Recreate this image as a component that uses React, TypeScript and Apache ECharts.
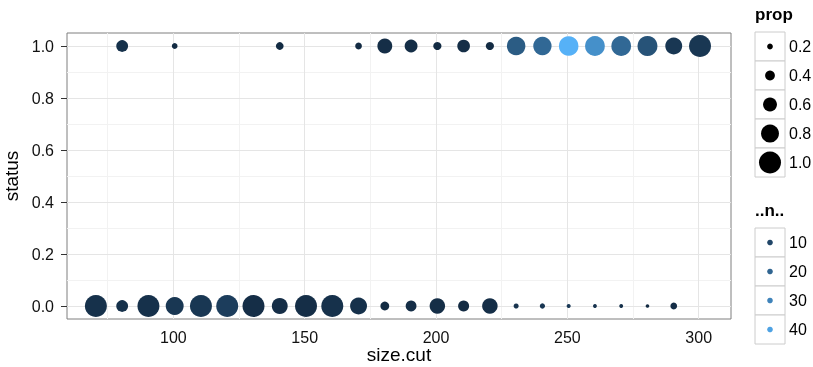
import React, { useEffect, useRef } from "react";
import * as echarts from "echarts";

// status = 0 points
const status0SizeCut = [70.5, 80.5, 90.5, 100.5, 110.5, 120.5, 130.5, 140.5, 150.5, 160.5, 170.5, 180.5, 190.5, 200.5, 210.5, 220.5, 230.5, 240.5, 250.5, 260.5, 270.5, 280.5, 290.5];
const status0Prop = [1.0, 0.5, 1.0, 0.8, 1.0, 1.0, 1.0, 0.7, 1.0, 1.0, 0.75, 0.35, 0.45, 0.68, 0.46, 0.68, 0.17, 0.18, 0.12, 0.11, 0.11, 0.1, 0.25];
const status0N = [3, 3, 3, 5, 5, 7, 2, 2, 2, 3, 3, 1, 2, 2, 1, 2, 4, 5, 6, 4, 3, 1, 2];

// status = 1 points
const status1SizeCut = [80.5, 100.5, 140.5, 170.5, 180.5, 190.5, 200.5, 210.5, 220.5, 230.5, 240.5, 250.5, 260.5, 270.5, 280.5, 290.5, 300.5];
const status1Prop = [0.5, 0.2, 0.3, 0.25, 0.65, 0.55, 0.32, 0.54, 0.32, 0.83, 0.82, 0.88, 0.89, 0.89, 0.9, 0.75, 1.0];
const status1N = [3, 1, 1, 1, 2, 2, 1, 2, 1, 17, 21, 45, 34, 21, 14, 5, 5];

// axes
const xTicks = [100, 150, 200, 250, 300];
const xMinorLines = [75, 125, 175, 225, 275];
const yTicks = [0, 0.2, 0.4, 0.6, 0.8, 1.0];
const yMinorLines = [0.1, 0.3, 0.5, 0.7, 0.9];

// legends
const propBreaks = [0.2, 0.4, 0.6, 0.8, 1.0];
const nBreaks = [10, 20, 30, 40];

const N_MIN = 1;
const N_MAX = 45;
const LOW = "#132B43";
const HIGH = "#56B1F7";
const FONT = "'Liberation Sans', Arial, Helvetica, sans-serif";

const allProps = status0Prop.concat(status1Prop);
const P_MIN = Math.min(...allProps);
const P_MAX = Math.max(...allProps);
const sizeOf = (p: number) => 3.67 * (1 + (5 * (p - P_MIN)) / (P_MAX - P_MIN));

function hex(c: string) {
  return [1, 3, 5].map((i) => parseInt(c.slice(i, i + 2), 16));
}
function colorOf(n: number) {
  const t = (n - N_MIN) / (N_MAX - N_MIN);
  const a = hex(LOW);
  const b = hex(HIGH);
  const r = a.map((v, i) => Math.round(v + (b[i] - v) * t));
  return `rgb(${r[0]},${r[1]},${r[2]})`;
}

export default function App() {
  const ref = useRef<HTMLDivElement>(null);
  useEffect(() => {
    document.body.style.margin = "0";
    const chart = echarts.init(ref.current!, undefined, { renderer: "svg" });

    const gridLines: any[] = [];
    xMinorLines.forEach((v) => gridLines.push({ xAxis: v, lineStyle: { color: "#f2f2f2", width: 1, type: "solid" } }));
    yMinorLines.forEach((v) => gridLines.push({ yAxis: v, lineStyle: { color: "#f2f2f2", width: 1, type: "solid" } }));
    xTicks.forEach((v) => gridLines.push({ xAxis: v, lineStyle: { color: "#e5e5e5", width: 1, type: "solid" } }));
    yTicks.forEach((v) => gridLines.push({ yAxis: v, lineStyle: { color: "#e5e5e5", width: 1, type: "solid" } }));

    const graphics: any[] = [];
    const lx = 755;
    const kw = 30;
    const kh = 29;
    graphics.push({
      type: "text", left: lx, top: 6,
      style: { text: "prop", font: `bold 17px ${FONT}`, fill: "#000" },
    });
    propBreaks.forEach((p, i) => {
      const y0 = 32 + i * kh;
      graphics.push({ type: "rect", shape: { x: lx, y: y0, width: kw, height: kh }, style: { fill: "#fff", stroke: "#cccccc", lineWidth: 1 } });
      graphics.push({ type: "circle", shape: { cx: lx + kw / 2, cy: y0 + kh / 2, r: sizeOf(p) / 2 }, style: { fill: "#000" } });
      graphics.push({ type: "text", x: lx + kw + 4, y: y0 + kh / 2, style: { text: p.toFixed(1), font: `16px ${FONT}`, fill: "#000", verticalAlign: "middle", align: "left" } });
    });
    graphics.push({
      type: "text", left: lx, top: 202,
      style: { text: "..n..", font: `bold 17px ${FONT}`, fill: "#000" },
    });
    nBreaks.forEach((n, i) => {
      const y0 = 228 + i * kh;
      graphics.push({ type: "rect", shape: { x: lx, y: y0, width: kw, height: kh }, style: { fill: "#fff", stroke: "#cccccc", lineWidth: 1 } });
      graphics.push({ type: "circle", shape: { cx: lx + kw / 2, cy: y0 + kh / 2, r: 2.8 }, style: { fill: colorOf(n) } });
      graphics.push({ type: "text", x: lx + kw + 4, y: y0 + kh / 2, style: { text: String(n), font: `16px ${FONT}`, fill: "#000", verticalAlign: "middle", align: "left" } });
    });

    chart.setOption({
      animation: false,
      textStyle: { fontFamily: FONT },
      grid: {
        left: 67, top: 33, right: 82, bottom: 48,
        show: true, borderColor: "#7f7f7f", borderWidth: 1, backgroundColor: "#fff",
        containLabel: false, outerBoundsMode: "none",
      },
      xAxis: {
        type: "value", min: 59.5, max: 312.3,
        name: "size.cut", nameLocation: "middle", nameGap: 35, nameMoveOverlap: false,
        nameTextStyle: { fontSize: 19, color: "#000", fontFamily: FONT, verticalAlign: "middle", lineHeight: 19 },
        axisLine: { show: false },
        splitLine: { show: false },
        axisTick: { show: true, length: 6, lineStyle: { color: "#333" }, customValues: xTicks },
        axisLabel: { customValues: xTicks, margin: 10, fontSize: 16, color: "#111", fontFamily: FONT },
      },
      yAxis: {
        type: "value", min: -0.05, max: 1.05,
        name: "status", nameLocation: "middle", nameGap: 44,
        nameTextStyle: { fontSize: 19, color: "#000", fontFamily: FONT },
        axisLine: { show: false },
        splitLine: { show: false },
        axisTick: { show: true, length: 6, lineStyle: { color: "#333" }, customValues: yTicks },
        axisLabel: { customValues: yTicks, margin: 13, fontSize: 16, color: "#111", fontFamily: FONT, formatter: (v: number) => v.toFixed(1) },
      },
      visualMap: [{
        type: "continuous", show: false, dimension: 3, min: N_MIN, max: N_MAX,
        seriesIndex: [0, 1], inRange: { color: [LOW, HIGH] },
      }],
      series: [
        {
          type: "scatter", z: 10,
          data: status0SizeCut.map((x, i) => [x, 0, status0Prop[i], status0N[i]]),
          symbolSize: (v: number[]) => sizeOf(v[2]),
          itemStyle: { opacity: 1 },
        },
        {
          type: "scatter", z: 10,
          data: status1SizeCut.map((x, i) => [x, 1, status1Prop[i], status1N[i]]),
          symbolSize: (v: number[]) => sizeOf(v[2]),
          itemStyle: { opacity: 1 },
        },
        {
          type: "scatter", z: 1, silent: true,
          data: [[200, 0.5]], symbolSize: 0, itemStyle: { opacity: 0 },
          markLine: { z: 1, silent: true, symbol: ["none", "none"], label: { show: false }, data: gridLines, animation: false },
        },
      ],
      graphic: graphics,
    });
    return () => chart.dispose();
  }, []);
  return <div ref={ref} style={{ position: "fixed", left: 0, top: 0, width: 813, height: 367 }} />;
}
